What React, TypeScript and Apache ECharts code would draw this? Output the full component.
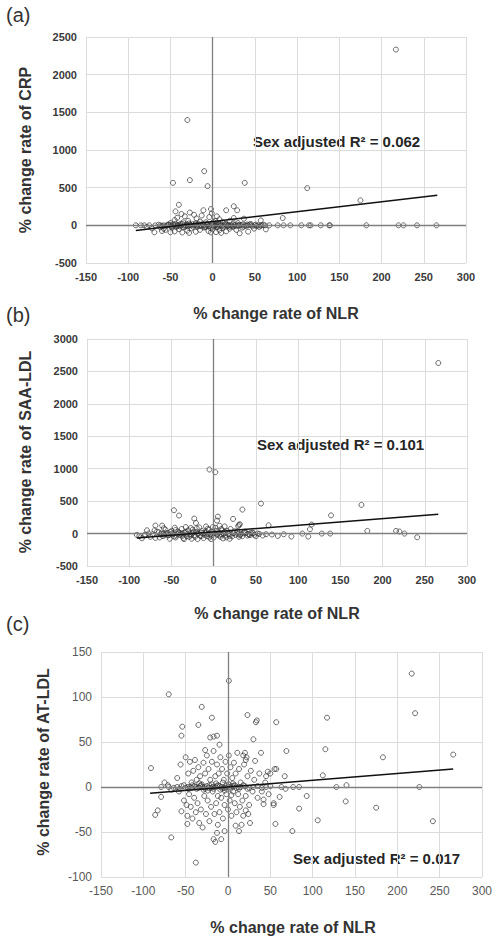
import React, { useEffect, useRef } from "react";
import * as echarts from "echarts";

// ---------- DATA ----------
const xTicksMin = -150;
const xTicksMax = 300;
const xTicksStep = 50;

const crpRange = [-500, 2500, 500];
const saaRange = [-500, 3000, 500];
const atRange = [-100, 150, 50];

const panelLabels = ["(a)", "(b)", "(c)"];
const xTitle = "% change rate of NLR";
const yTitles = ["% change rate of CRP", "% change rate of SAA-LDL", "% change rate of AT-LDL"];
const annotations = ["Sex adjusted R² = 0.062", "Sex adjusted R² = 0.101", "Sex adjusted R² = 0.017"];

const crpFit: [number, number][] = [[-91, -70], [266, 400]];
const saaFit: [number, number][] = [[-91, -67], [266, 298]];
const atFit: [number, number][] = [[-92, -7], [266, 20]];

const crpPoints: [number, number][] = [
  [217, 2333], [-30, 1398], [-10, 719], [-47, 564], [-27, 600], [-6, 520], [38, 564], [112, 494], [175, 331], [83, 97], [57, 66],
  [-40, 273], [-44, 185], [-27, 170], [-11, 200], [-2, 216], [16, 200], [25, 253], [29, 200], [25, 97], [37, 88],
  [-37, 150], [-33, 120], [-22, 140], [-42, 100], [-13, 130], [-4, 110], [-1, 160], [5, 120], [8, 80], [3, 60],
  [-19, 90], [-29, 60], [-35, 40], [-15, 50], [12, 40], [20, 60], [30, 30], [45, 20], [-50, 30], [-45, 70], [-8, 40],
  [67, 0], [77, 0], [84, 0], [92, 0], [105, 0], [114, 0], [116, 0], [128, 0], [138, 0], [139, 0], [182, 0], [220, 0], [226, 0], [242, 0], [265, 0],
  [-91, 0], [-85, 0], [-81, 0], [-75, 0], [-68, 0], [-62, 0], [-58, 0], [-54, 0], [-50, 0], [-46, 0], [-42, 0], [-38, 0], [-34, 0],
  [-30, 0], [-26, 0], [-22, 0], [-18, 0], [-14, 0], [-10, 0], [-6, 0], [-2, 0], [2, 0], [6, 0], [10, 0], [14, 0], [18, 0], [22, 0],
  [26, 0], [30, 0], [34, 0], [38, 0], [42, 0], [46, 0], [50, 0], [54, 0], [58, 0], [62, 0],
  [-69, -92], [-60, -75], [-50, -92], [32, -106], [42, -84], [49, -44], [63, -53], [-56, -60], [-45, -80], [-40, -50], [-36, -95],
  [-30, -70], [-25, -40], [-20, -85], [-15, -60], [-10, -30], [-5, -75], [0, -50], [4, -90], [8, -65], [12, -35], [16, -80],
  [20, -45], [24, -20], [28, -60], [-33, -20], [-48, -30], [-62, -25], [-72, -40], [-78, -20], [5, -20], [-8, -15], [18, -10],
  [35, -30], [55, -20], [-58, -45], [-42, -10], [-28, -100], [-18, -20], [-2, -95], [10, -100], [2, -10],
  [-38, 20], [-32, -5], [-24, 15], [-16, -8], [-12, 25], [-6, 10], [0, 30], [3, -5], [7, 15], [11, -8], [15, 20], [19, 5],
  [23, -12], [27, 10], [31, -4], [36, 12], [40, -6], [44, 8], [52, -8], [-52, 10], [-48, -12], [-44, 20], [-20, 30], [-28, 25],
  [1, 45], [9, 30], [-3, -35],
  [-56, -12], [-53, 8], [-49, -18], [-47, 14], [-43, -22], [-41, 6], [-39, -14], [-36, 18], [-35, -24], [-31, 12], [-29, -16],
  [-27, 8], [-23, -20], [-21, 14], [-19, -6], [-17, 20], [-13, -14], [-11, 6], [-9, -22], [-7, 16], [-4, -10], [-1, 20], [1, -18],
  [4, 10], [6, -24], [9, 12], [13, -16], [16, 6], [20, -20], [24, 14], [28, -12], [32, 8], [37, -18], [41, 12], [47, -14], [51, 10],
  [57, -6], [60, 6], [-60, -8], [-64, 8],
];

const saaPoints: [number, number][] = [
  [266, 2630], [-5, 988], [2, 946], [56, 463], [175, 442], [34, 370], [-47, 360], [-41, 278], [139, 281], [-23, 231], [-21, 164],
  [5, 262], [4, 200], [23, 226], [30, 133], [65, 128], [116, 139], [114, 67], [182, 41], [216, 41], [220, 31], [226, 0], [241, -57],
  [128, 0], [138, 0], [105, 0], [112, -46], [92, -46], [83, -10], [76, -36], [69, -15],
  [-91, -20], [-85, -72], [-79, 51], [-69, -67], [-69, 123], [-70, 51], [-61, 123], [-59, 82], [-88, -40], [-82, -30], [-75, -50],
  [-64, -60], [-58, -20], [31, 144], [29, 113],
  [-65, 20], [-60, -40], [-55, 10], [-52, -80], [-50, 40], [-48, -10], [-45, -60], [-42, 30], [-40, -20], [-38, 70], [-36, -70],
  [-34, 10], [-32, -40], [-30, 50], [-28, -10], [-26, -80], [-24, 20], [-22, -50], [-20, 80], [-18, 0], [-16, -30], [-14, 40],
  [-12, -70], [-10, 10], [-8, -40], [-6, 60], [-4, -10], [-2, 30], [0, -60], [2, 90], [4, -20], [6, 20], [8, -50], [10, 50],
  [12, 0], [14, -30], [16, 40], [18, -10], [20, 70], [22, -40], [24, 10], [26, -20], [28, 30], [32, -10], [36, 20], [40, -30],
  [44, 10], [48, -20], [52, 0], [58, -30], [62, -10], [-57, 60], [-46, 90], [-33, 100], [-27, 85], [-17, 95], [-9, 110], [-1, 100],
  [7, 120], [13, 110], [-44, -30], [-39, 0], [-29, -50], [-23, -25], [-15, 15], [-11, -20], [-5, -60], [1, 5], [9, -10], [15, -60],
  [19, -80], [-35, -85], [-19, -85], [-3, -85], [11, -75], [-53, -25], [-59, -5], [-63, -15], [30, -50], [34, -40], [38, 10],
  [42, -15], [46, 15], [50, -40], [54, -5], [-67, 30], [-72, -10], [-77, 0], [-81, -15],
  [-62, 0], [-56, -5], [-49, 5], [-43, -5], [-37, 5], [-31, -5], [-25, 5], [-19, -5], [-13, 5], [-7, -5], [-1, 5], [5, -5],
  [11, 5], [17, -5], [23, 5], [29, -5], [35, 5], [41, -5], [47, 5],
  [-54, -30], [-51, 25], [-47, -45], [-41, 15], [-37, -35], [-33, 30], [-27, -30], [-21, 25], [-15, -40], [-9, 30], [-3, -35],
  [3, 40], [7, -30], [13, 30], [19, -35], [25, 35], [31, -25], [37, 30], [43, -25], [-45, 55], [-25, 60], [-7, 75], [9, 70],
];

const atPoints: [number, number][] = [
  [217, 126], [221, 82], [117, 77], [57, 72], [115, 42], [69, 40], [183, 33], [266, 36], [57, 20], [67, 12], [112, 13], [140, 2],
  [128, 0], [226, 0], [84, 0], [77, 0], [68, -2], [63, 0], [93, -10], [61, -11], [54, -18], [139, -16], [84, -24], [175, -23],
  [56, -41], [106, -37], [242, -38], [76, -49],
  [1, 118], [-70, 103], [-31, 89], [-19, 77], [23, 80], [34, 74], [33, 72], [-54, 67], [-35, 69], [-55, 57], [-21, 55], [-17, 56],
  [-13, 57], [-10, 47], [30, 53], [-91, 21], [-27, 41], [18, 35], [20, 38], [22, 33], [21, 30], [39, 38], [32, 29], [55, 20],
  [45, 12], [47, 17], [50, 15], [-79, 0], [-75, 5], [-71, 2], [-67, -3], [-79, -11], [-83, -26], [-86, -31], [-67, -56], [-38, -84],
  [-55, -27], [-48, -32], [-48, -41], [-17, -58], [-15, -61], [-8, -58], [-13, -51], [9, -43], [13, -49], [-4, -49], [16, -42],
  [26, -40], [21, -26], [24, -30], [18, -32], [42, -14], [42, -19], [54, -20],
  [-60, 10], [-58, -5], [-56, 25], [-52, -15], [-50, 33], [-49, -20], [-47, 15], [-46, -8], [-45, 28], [-44, -22], [-43, 5],
  [-42, -35], [-41, 18], [-40, -12], [-39, 30], [-38, -28], [-37, 8], [-36, -18], [-35, 22], [-34, -40], [-33, 12], [-32, -25],
  [-31, 3], [-30, -45], [-29, 27], [-28, -10], [-27, 15], [-26, -30], [-25, 35], [-24, -15], [-23, 20], [-22, -38], [-21, 8],
  [-20, -22], [-19, 28], [-18, -5], [-17, 40], [-16, -30], [-15, 12], [-14, -18], [-13, 25], [-12, -42], [-11, 15], [-10, -28],
  [-9, 33], [-8, -12], [-7, 20], [-6, -35], [-5, 8], [-4, -20], [-3, 28], [-2, -8], [-1, 15], [0, -25], [1, 35], [2, -15], [3, 22],
  [4, -32], [5, 10], [6, -5], [7, 27], [8, -18], [9, 15], [10, -28], [11, 38], [12, -8], [13, 20], [14, -22], [15, 5], [17, -15],
  [19, 25], [21, -10], [23, 12], [25, -20], [27, 18], [29, -5], [31, 8], [35, -12], [37, 15], [40, -5], [44, 5], [48, -8],
  [-60, 0], [-55, 1], [-50, -1], [-45, 0], [-40, 1], [-35, -1], [-30, 0], [-25, 1], [-20, -1], [-15, 0], [-10, 1], [-5, -1], [0, 0],
  [5, 1], [10, -1], [15, 0], [20, 1], [25, -1], [30, 0], [35, 1], [40, -1], [45, 0], [50, 1], [-64, -1], [-70, 0], [-57, -2],
  [-52, 2], [-47, -2], [-42, 2], [-37, -2], [-32, 2], [-27, -2], [-22, 2], [-17, -2], [-12, 2], [-7, -2], [-2, 2], [3, -2], [8, 2],
  [13, -2], [18, 2], [23, -2],
  [-48, 0], [-43, -1], [-38, 0], [-33, 1], [-28, 0], [-23, -1], [-18, 0], [-13, 1], [-8, 0], [-3, -1], [2, 0], [7, 1], [12, 0],
  [-29, -3], [-19, 3], [-9, -3], [1, 3], [-34, 4], [-24, -4], [-14, 4], [-4, -4], [6, 4], [-12, -10], [-6, 5], [4, -9],
];

// ---------- LAYOUT ----------
const FONT = "'Liberation Sans', Arial, sans-serif";
const grids = [
  { left: 86, top: 37, width: 380, height: 226 },
  { left: 87, top: 339, width: 380, height: 227 },
  { left: 101, top: 652, width: 382, height: 225 },
];

export default function App() {
  const ref = useRef<HTMLDivElement>(null);
  useEffect(() => {
    if (!ref.current) return;
    const chart = echarts.init(ref.current, undefined, { renderer: "svg" });
    const ranges = [crpRange, saaRange, atRange];
    const pts = [crpPoints, saaPoints, atPoints];
    const fits = [crpFit, saaFit, atFit];

    const labelStyles = [
      { color: "#3a3a3a", fontSize: 11, fontWeight: "bold" as const },
      { color: "#3a3a3a", fontSize: 11, fontWeight: "bold" as const },
      { color: "#595959", fontSize: 12, fontWeight: "normal" as const },
    ];

    const xAxis = grids.map((g, i) => ({
      type: "value" as const,
      gridIndex: i,
      min: xTicksMin,
      max: xTicksMax,
      interval: xTicksStep,
      axisLine: { show: false },
      axisTick: { show: false },
      axisLabel: { ...labelStyles[i], fontFamily: FONT, margin: 8, formatter: (v: number) => String(v) },
      splitLine: { show: true, lineStyle: { color: "#dcdcdc", width: 1 } },
    }));
    const yAxis = grids.map((g, i) => ({
      type: "value" as const,
      gridIndex: i,
      min: ranges[i][0],
      max: ranges[i][1],
      interval: ranges[i][2],
      axisLine: { show: false },
      axisTick: { show: false },
      axisLabel: { ...labelStyles[i], fontFamily: FONT, margin: 9, formatter: (v: number) => String(v) },
      splitLine: { show: true, lineStyle: { color: "#dcdcdc", width: 1 } },
    }));

    const series: any[] = [];
    for (let i = 0; i < 3; i++) {
      series.push({
        type: "scatter",
        xAxisIndex: i,
        yAxisIndex: i,
        data: pts[i],
        symbol: "circle",
        symbolSize: 5,
        itemStyle: { color: "rgba(255,255,255,0)", borderColor: "#333333", borderWidth: 0.9 },
        markLine: {
          silent: true,
          symbol: "none",
          label: { show: false },
          lineStyle: { color: "#7f7f7f", width: 1.3, type: "solid" },
          data: [{ xAxis: 0 }, { yAxis: 0 }],
        },
      });
      series.push({
        type: "line",
        xAxisIndex: i,
        yAxisIndex: i,
        data: fits[i],
        showSymbol: false,
        symbol: "none",
        lineStyle: { color: "#111", width: 1.5 },
        z: 5,
      });
    }

    const titleStyle = { fontFamily: FONT, fontSize: 16, fontWeight: "bold" as const, fill: "#333" };
    const annStyle = { fontFamily: FONT, fontSize: 15, fontWeight: "bold" as const, fill: "#262626", verticalAlign: "middle" as const };
    const graphic: any[] = [
      { type: "text", left: 6, top: 5, style: { text: panelLabels[0], fontFamily: FONT, fontSize: 20, fill: "#333" } },
      { type: "text", left: 6, top: 305, style: { text: panelLabels[1], fontFamily: FONT, fontSize: 20, fill: "#333" } },
      { type: "text", left: 6, top: 614, style: { text: panelLabels[2], fontFamily: FONT, fontSize: 20, fill: "#333" } },
      { type: "text", x: 276, y: 313, style: { ...titleStyle, text: xTitle, align: "center", verticalAlign: "middle" } },
      { type: "text", x: 277, y: 613, style: { ...titleStyle, text: xTitle, align: "center", verticalAlign: "middle" } },
      { type: "text", x: 293, y: 927, style: { ...titleStyle, text: xTitle, align: "center", verticalAlign: "middle" } },
      { type: "text", x: 25, y: 150, rotation: Math.PI / 2, style: { ...titleStyle, text: yTitles[0], align: "center", verticalAlign: "middle" } },
      { type: "text", x: 25, y: 452, rotation: Math.PI / 2, style: { ...titleStyle, text: yTitles[1], align: "center", verticalAlign: "middle" } },
      { type: "text", x: 43, y: 762, rotation: Math.PI / 2, style: { ...titleStyle, text: yTitles[2], align: "center", verticalAlign: "middle" } },
      { type: "text", x: 253, y: 141, style: { ...annStyle, text: annotations[0] } },
      { type: "text", x: 257, y: 444, style: { ...annStyle, text: annotations[1] } },
      { type: "text", x: 293, y: 858, style: { ...annStyle, text: annotations[2] } },
    ];

    chart.setOption({
      animation: false,
      backgroundColor: "#ffffff",
      grid: grids.map((g) => ({ ...g, containLabel: false })),
      xAxis,
      yAxis,
      series,
      graphic,
    });
    return () => chart.dispose();
  }, []);

  return (
    <div
      ref={ref}
      style={{ position: "fixed", left: 0, top: 0, width: 495, height: 937, background: "#fff" }}
    />
  );
}
